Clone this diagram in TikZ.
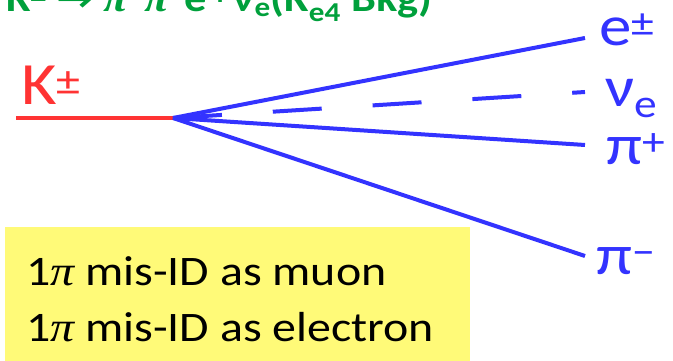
\documentclass[tikz,border=0pt]{standalone}
\usepackage{fontspec}
\setmainfont{Carlito}
\newfontfamily\sympi{Liberation Serif}
\newfontfamily\dejavu{DejaVu Sans}
\definecolor{kred}{RGB}{255,51,51}
\definecolor{pblue}{RGB}{51,51,255}
\definecolor{tgreen}{RGB}{0,160,60}
\definecolor{boxyellow}{RGB}{255,250,120}
\tikzset{
  track/.style={line width=4pt, pblue},
  lbl/.style={anchor=base west, inner sep=0pt, pblue, font=\fontsize{57}{64}\selectfont},
  boxline/.style={anchor=base west, inner sep=0pt, font=\fontsize{42}{56}\selectfont},
}
\newcommand\spi{{\sympi\itshape π}}
\newcommand\wide[1]{\scalebox{1.14}[1]{#1}}
\begin{document}
\begin{tikzpicture}[x=1pt,y=1pt]
\useasboundingbox (0,0) rectangle (673,361);
% title (clipped at top)
\node[anchor=base west, inner sep=0pt, tgreen, font=\bfseries\fontsize{39}{44}\selectfont] (title) at (6,349)
  {\wide{K\textsuperscript{±} {\dejavu →} \spi\textsuperscript{+}\spi\textsuperscript{−}e\textsuperscript{{\dejavu ∓}}ν\textsubscript{e}(K\textsubscript{e4} Bkg)}};
% kaon
\coordinate (kin) at (16,243);
\coordinate (vtx) at (173,243);
\draw[line width=4pt, kred] (kin) -- (vtx);
\node[anchor=base west, inner sep=0pt, kred, font=\fontsize{60}{70}\selectfont] (klbl) at (21,256) {\wide{K\textsuperscript{±}}};
% tracks
\coordinate (eend) at (585,323);
\coordinate (nend) at (585,269);
\coordinate (ppend) at (585,216);
\coordinate (pmend) at (585,105);
\draw[track] (vtx) -- (eend);
\draw[track, dash pattern=on 49pt off 51pt] (vtx) -- (nend);
\draw[track] (vtx) -- (ppend);
\draw[track] (vtx) -- (pmend);
% labels
\node[lbl] (elbl) at (599,315) {\wide{e\textsuperscript{±}}};
\node[lbl] (nlbl) at (605,254) {\wide{ν\textsubscript{e}}};
\node[lbl] (pplbl) at (606,196) {\wide{π\textsuperscript{+}}};
\node[lbl] (pmlbl) at (596,86) {\wide{π\textsuperscript{−}}};
% yellow box
\node[fill=boxyellow, anchor=north west, minimum width=465pt, minimum height=140pt, inner sep=0pt] (box) at (5,134) {};
\node[boxline] (line1) at (26,75) {\wide{1\spi{} mis-ID as muon}};
\node[boxline] (line2) at (26,19) {\wide{1\spi{} mis-ID as electron}};
\end{tikzpicture}
\end{document}
